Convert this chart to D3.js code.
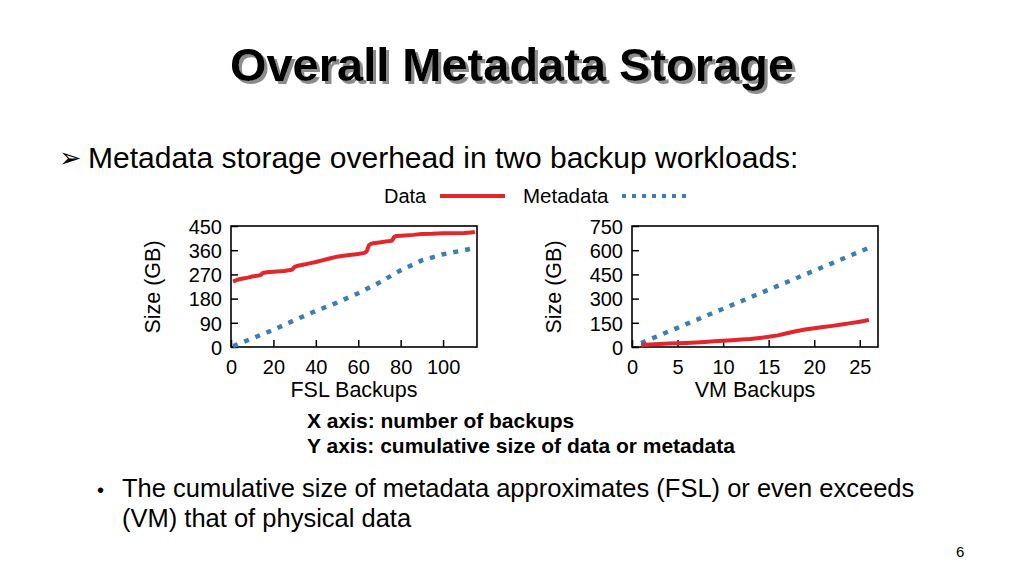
<!DOCTYPE html>
<html>
<head>
<meta charset="utf-8">
<script src="https://cdn.jsdelivr.net/npm/d3@7"></script>
<style>
  body { margin: 0; background: #fff; }
  text { font-family: "Liberation Sans", Arial, sans-serif; fill: #000; }
</style>
</head>
<body>
<svg id="slide" width="1024" height="576"></svg>
<script>
// FSL workload (x = backup number, y = cumulative GB)
const fslDataX = [1, 3, 5, 8, 10, 13, 14, 15, 17, 20, 25, 28, 29, 30, 31, 34, 37, 40, 43, 46, 50, 53, 56, 60, 63, 64, 65, 66, 68, 70, 73, 75, 76, 77, 78, 82, 86, 90, 95, 100, 105, 110, 113, 115]
const fslDataY = [243, 250, 254, 258, 262, 266, 268, 275, 278, 280, 283, 286, 289, 298, 301, 306, 311, 316, 322, 328, 336, 339, 342, 346, 350, 356, 378, 384, 387, 389, 392, 394, 396, 410, 413, 415, 417, 420, 421, 423, 423, 424, 426, 428]
const fslMetaX = [1, 10, 20, 30, 40, 50, 60, 70, 80, 90, 100, 110, 115]
const fslMetaY = [3, 32, 64, 100, 134, 165, 200, 240, 285, 322, 345, 360, 368]

// VM workload
const vmX = [1, 2, 3, 4, 5, 6, 7, 8, 9, 10, 11, 12, 13, 14, 15, 16, 17, 18, 19, 20, 21, 22, 23, 24, 25, 26]
const vmDataY = [12, 16, 19, 21, 23, 25, 28, 31, 35, 38, 42, 46, 50, 56, 63, 72, 85, 98, 108, 116, 124, 131, 139, 148, 157, 167]
const vmMetaY = [25, 48, 72, 96, 119, 143, 166, 190, 214, 237, 261, 284, 308, 332, 355, 379, 402, 426, 450, 473, 497, 520, 544, 568, 591, 615]

const fslXTicks = [0, 20, 40, 60, 80, 100]
const fslYTicks = [0, 90, 180, 270, 360, 450]
const vmXTicks = [0, 5, 10, 15, 20, 25]
const vmYTicks = [0, 150, 300, 450, 600, 750]

const RED = "#e3262b"
const BLUE = "#3b7db9"

const svg = d3.select("#slide")

// drop shadow for the title
const filt = svg.append("defs").append("filter")
    .attr("id", "shadow").attr("x", "-5%").attr("y", "-20%")
    .attr("width", "110%").attr("height", "140%")
filt.append("feDropShadow")
    .attr("dx", 3).attr("dy", 3).attr("stdDeviation", 0.6)
    .attr("flood-color", "#8c8c8c").attr("flood-opacity", 1)

svg.append("text")
    .attr("x", 512).attr("y", 81)
    .attr("text-anchor", "middle")
    .attr("filter", "url(#shadow)")
    .style("font-size", "47px").style("font-weight", "bold")
    .text("Overall Metadata Storage")

svg.append("text")
    .attr("x", 59).attr("y", 167)
    .style("font-size", "27px")
    .text("\u27A2")
svg.append("text")
    .attr("x", 88).attr("y", 168)
    .style("font-size", "30px")
    .text("Metadata storage overhead in two backup workloads:")

// legend
svg.append("text").attr("x", 384).attr("y", 203).style("font-size", "20px").text("Data")
svg.append("line").attr("x1", 440).attr("x2", 505).attr("y1", 196).attr("y2", 196)
    .style("stroke", RED).style("stroke-width", 4)
svg.append("text").attr("x", 523).attr("y", 203).style("font-size", "20.5px").text("Metadata")
svg.append("line").attr("x1", 622).attr("x2", 692).attr("y1", 196).attr("y2", 196)
    .style("stroke", BLUE).style("stroke-width", 4).style("stroke-dasharray", "4,6")

function drawPanel(opt) {
    const x = d3.scaleLinear().domain(opt.xDomain).range([opt.left, opt.right])
    const y = d3.scaleLinear().domain(opt.yDomain).range([opt.bottom, opt.top])

    const g = svg.append("g")

    g.append("g")
        .attr("transform", "translate(" + opt.left + ",0)")
        .call(d3.axisLeft(y).tickValues(opt.yTicks).tickSize(-7).tickPadding(9))
        .call(a => a.select(".domain").remove())
        .call(a => a.selectAll("text").style("font-size", "20px").attr("dy", "0.36em"))
        .call(a => a.selectAll("line").style("stroke-width", 1.5))

    g.append("g")
        .attr("transform", "translate(0," + opt.bottom + ")")
        .call(d3.axisBottom(x).tickValues(opt.xTicks).tickSize(-7).tickPadding(13))
        .call(a => a.select(".domain").remove())
        .call(a => a.selectAll("text").style("font-size", "20px"))
        .call(a => a.selectAll("line").style("stroke-width", 1.5))

    g.append("rect")
        .attr("x", opt.left).attr("y", opt.top)
        .attr("width", opt.right - opt.left).attr("height", opt.bottom - opt.top)
        .style("fill", "none").style("stroke", "#000").style("stroke-width", 1.6)

    const line = d3.line().x(d => x(d[0])).y(d => y(d[1]))

    g.append("path")
        .datum(d3.zip(opt.metaX, opt.metaY))
        .attr("d", line)
        .style("fill", "none").style("stroke", BLUE)
        .style("stroke-width", 4.5).style("stroke-dasharray", "5,7")

    g.append("path")
        .datum(d3.zip(opt.dataX, opt.dataY))
        .attr("d", line)
        .style("fill", "none").style("stroke", RED)
        .style("stroke-width", 4).style("stroke-linejoin", "round")

    g.append("text")
        .attr("x", opt.xLabelX).attr("y", 397)
        .attr("text-anchor", "middle")
        .style("font-size", "21.5px")
        .text(opt.xLabel)

    g.append("text")
        .attr("transform", "translate(" + opt.yLabelX + "," + 287 + ") rotate(-90)")
        .attr("text-anchor", "middle")
        .style("font-size", "21.5px")
        .text("Size (GB)")
}

drawPanel({
    left: 231, right: 477, top: 226, bottom: 347,
    xDomain: [0, 116], yDomain: [0, 450],
    xTicks: fslXTicks, yTicks: fslYTicks,
    dataX: fslDataX, dataY: fslDataY,
    metaX: fslMetaX, metaY: fslMetaY,
    xLabel: "FSL Backups", xLabelX: 354, yLabelX: 160
})

drawPanel({
    left: 632, right: 878, top: 226, bottom: 347,
    xDomain: [0, 27], yDomain: [0, 750],
    xTicks: vmXTicks, yTicks: vmYTicks,
    dataX: vmX, dataY: vmDataY,
    metaX: vmX, metaY: vmMetaY,
    xLabel: "VM Backups", xLabelX: 755, yLabelX: 561
})

// notes
svg.append("text").attr("x", 307).attr("y", 428)
    .style("font-size", "21px").style("font-weight", "bold")
    .text("X axis: number of backups")
svg.append("text").attr("x", 307).attr("y", 453)
    .style("font-size", "21px").style("font-weight", "bold")
    .text("Y axis: cumulative size of data or metadata")

svg.append("text").attr("x", 97).attr("y", 497)
    .style("font-size", "20px")
    .text("\u2022")
svg.append("text").attr("x", 122).attr("y", 497)
    .style("font-size", "25.5px")
    .text("The cumulative size of metadata approximates (FSL) or even exceeds")
svg.append("text").attr("x", 122).attr("y", 527)
    .style("font-size", "25.5px")
    .text("(VM) that of physical data")

svg.append("text").attr("x", 956).attr("y", 557)
    .style("font-size", "15px")
    .text("6")
</script>
</body>
</html>
